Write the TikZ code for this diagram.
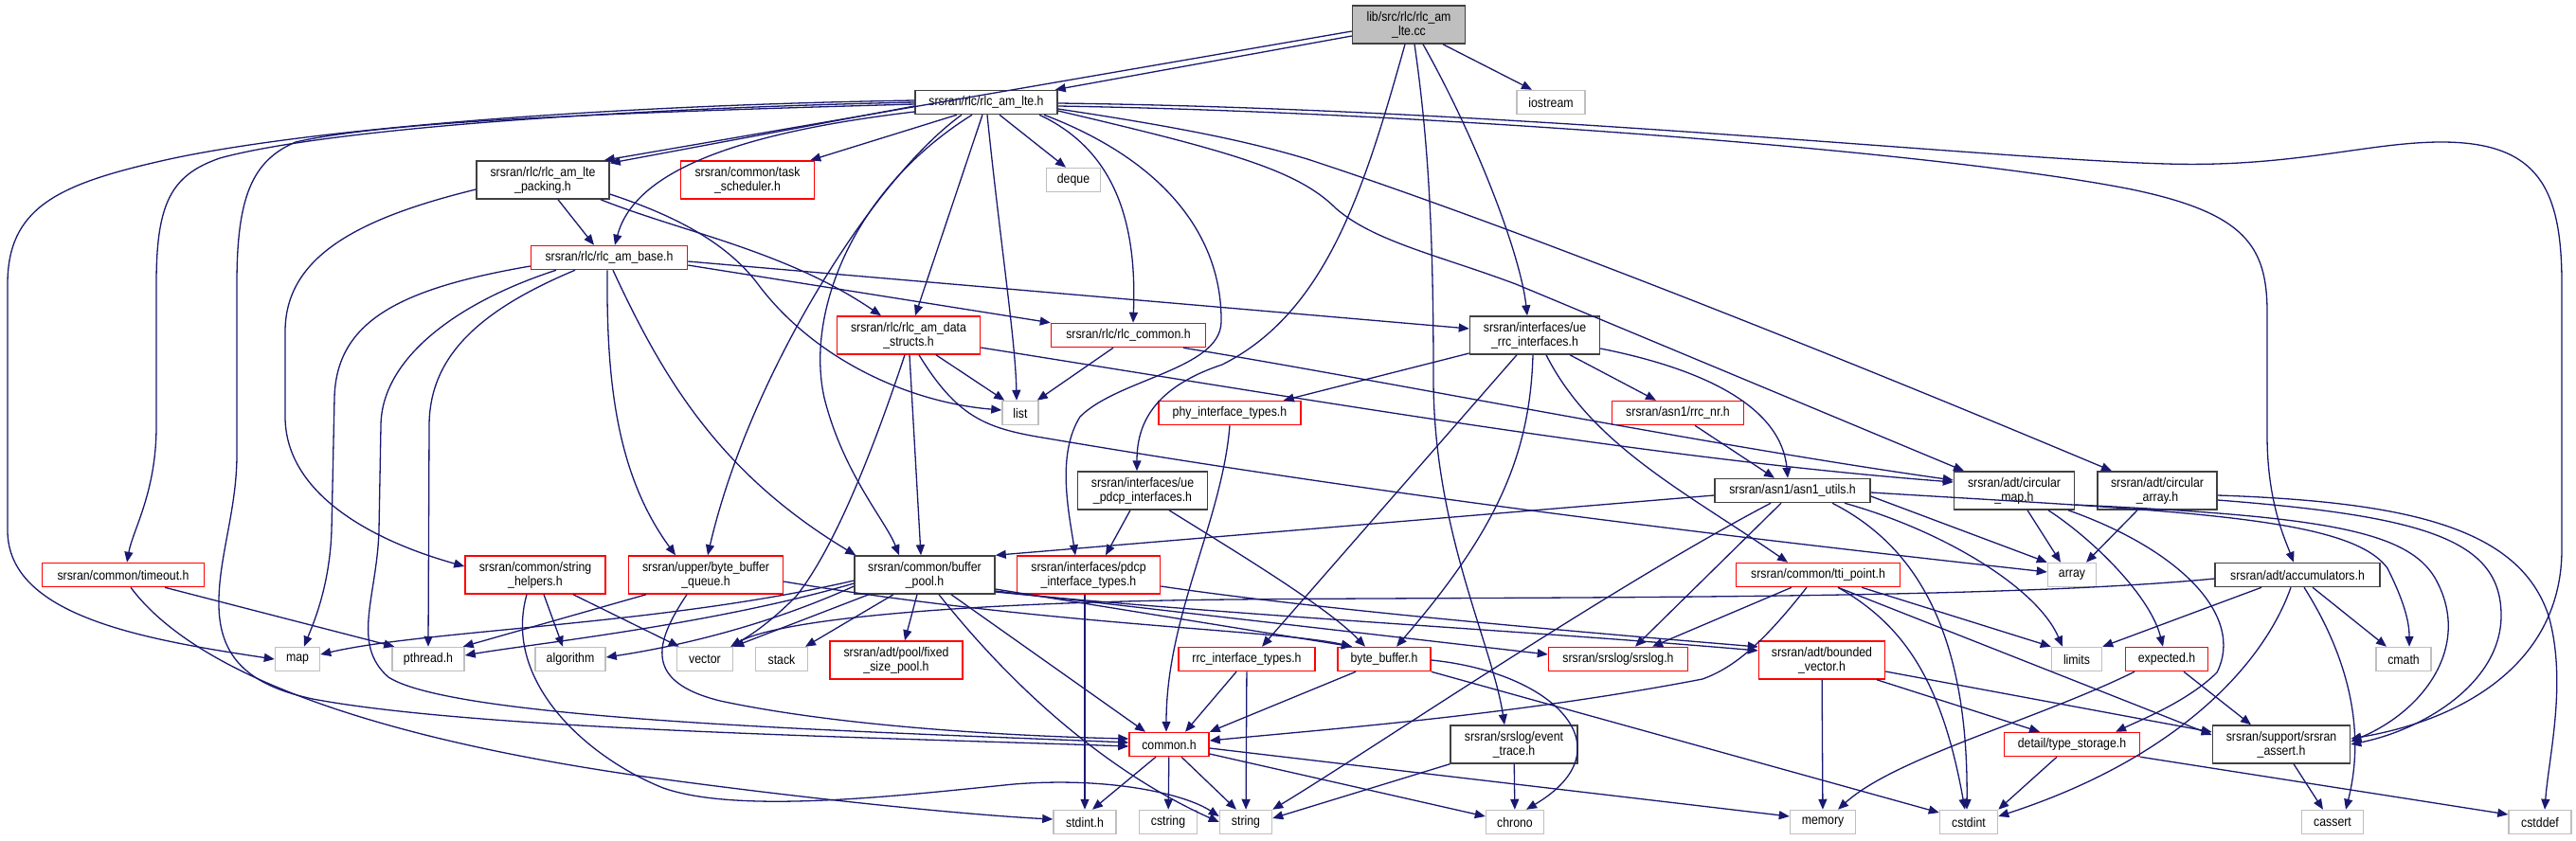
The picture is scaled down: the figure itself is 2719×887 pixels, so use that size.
\documentclass[tikz,border=0pt]{standalone}
\usepackage{fontspec}
\setmainfont{Liberation Sans}[FakeStretch=0.88]
\usetikzlibrary{arrows.meta}
\definecolor{edgec}{RGB}{25,25,112}
\definecolor{bdark}{RGB}{64,64,64}
\definecolor{bgray}{RGB}{191,191,191}
\definecolor{bred}{RGB}{255,0,0}
\definecolor{cfill}{RGB}{191,191,191}
\begin{document}
\begin{tikzpicture}[x=1pt,y=-1pt,
  nbase/.style={draw, line width=1.5pt, inner sep=0pt, align=center, font=\fontsize{14}{15}\selectfont, fill=white},
  nb/.style={nbase, draw=bdark},
  nr/.style={nbase, draw=bred},
  ng/.style={nbase, draw=bgray},
  wd/.style={minimum width=#1pt},
  h1/.style={minimum height=25pt},
  h2/.style={minimum height=40pt},
  e/.style={draw=edgec, line width=1.3pt, -{Triangle[length=11pt,width=9pt]}}
]
\useasboundingbox[fill=white] (0,0) rectangle (2719,887);
% nodes
\node[nb, fill=cfill, wd=119, h2] (cc) at (1487,26) {lib/src/rlc/rlc\_am\\\_lte.cc};
\node[ng, wd=72, h1] (io) at (1637,108) {iostream};
\node[nb, wd=150, h1] (lte) at (1041,108) {srsran/rlc/rlc\_am\_lte.h};
\node[nb, wd=140, h2] (pack) at (573,190) {srsran/rlc/rlc\_am\_lte\\\_packing.h};
\node[nr, wd=141, h2] (task) at (789,190) {srsran/common/task\\\_scheduler.h};
\node[ng, wd=57, h1] (deque) at (1133,190) {deque};
\node[nr, wd=165, h1] (base) at (643,272) {srsran/rlc/rlc\_am\_base.h};
\node[nr, wd=151, h2] (ds) at (959,354) {srsran/rlc/rlc\_am\_data\\\_structs.h};
\node[nr, wd=163, h1] (rcom) at (1191,354) {srsran/rlc/rlc\_common.h};
\node[ng, wd=38, h1] (list) at (1077,436) {list};
\node[nr, wd=150, h1] (phy) at (1298,436) {phy\_interface\_types.h};
\node[nb, wd=137, h2] (pdcpif) at (1206,518) {srsran/interfaces/ue\\\_pdcp\_interfaces.h};
\node[nb, wd=137, h2] (rrcif) at (1620,354) {srsran/interfaces/ue\\\_rrc\_interfaces.h};
\node[nr, wd=139, h1] (rrcnr) at (1771,436) {srsran/asn1/rrc\_nr.h};
\node[nb, wd=164, h1] (asn1) at (1892,518) {srsran/asn1/asn1\_utils.h};
\node[nb, wd=127, h2] (cmap) at (2126,518) {srsran/adt/circular\\\_map.h};
\node[nb, wd=126, h2] (carr) at (2277,518) {srsran/adt/circular\\\_array.h};
\node[nb, wd=174, h1] (acc) at (2425,607) {srsran/adt/accumulators.h};
\node[ng, wd=51, h1] (array) at (2187,607) {array};
\node[ng, wd=53, h1] (limits) at (2192,696) {limits};
\node[nr, wd=87, h1] (expected) at (2287,696) {expected.h};
\node[ng, wd=58, h1] (cmath) at (2537,696) {cmath};
\node[nr, wd=143, h1] (tstore) at (2187,786) {detail/type\_storage.h};
\node[nb, wd=145, h2] (assert) at (2408,786) {srsran/support/srsran\\\_assert.h};
\node[ng, wd=61, h1] (cstdint) at (2078,868) {cstdint};
\node[ng, wd=65, h1] (cassert) at (2462,868) {cassert};
\node[ng, wd=66, h1] (cstddef) at (2681,868) {cstddef};
\node[nr, wd=173, h1] (tti) at (1919,607) {srsran/common/tti\_point.h};
\node[nr, wd=98, h1] (bb) at (1461,696) {byte\_buffer.h};
\node[nr, wd=147, h1] (srslog) at (1708,696) {srsran/srslog/srslog.h};
\node[nr, wd=133, h2] (bvec) at (1923,697) {srsran/adt/bounded\\\_vector.h};
\node[nb, wd=134, h2] (evt) at (1598,786) {srsran/srslog/event\\\_trace.h};
\node[ng, wd=61, h1] (chrono) at (1599,868) {chrono};
\node[ng, wd=69, h1] (memory) at (1924,868) {memory};
\node[nr, wd=144, h1] (rrct) at (1316,696) {rrc\_interface\_types.h};
\node[nr, wd=84, h1] (common) at (1234,786) {common.h};
\node[ng, wd=66, h1] (stdint) at (1145,868) {stdint.h};
\node[ng, wd=61, h1] (cstring) at (1233,868) {cstring};
\node[ng, wd=55, h1] (string) at (1315,868) {string};
\node[nb, wd=148, h2] (bpool) at (976,607) {srsran/common/buffer\\\_pool.h};
\node[nr, wd=151, h2] (pdcpt) at (1149,607) {srsran/interfaces/pdcp\\\_interface\_types.h};
\node[nr, wd=163, h2] (bbq) at (745,607) {srsran/upper/byte\_buffer\\\_queue.h};
\node[ng, wd=59, h1] (vector) at (744,696) {vector};
\node[ng, wd=55, h1] (stack) at (825,696) {stack};
\node[nr, wd=140, h2] (fsp) at (946,697) {srsran/adt/pool/fixed\\\_size\_pool.h};
\node[nr, wd=171, h1] (timeout) at (130,607) {srsran/common/timeout.h};
\node[nr, wd=148, h2] (strh) at (565,607) {srsran/common/string\\\_helpers.h};
\node[ng, wd=47, h1] (map) at (314,696) {map};
\node[ng, wd=76, h1] (pthread) at (452,696) {pthread.h};
\node[ng, wd=74, h1] (algorithm) at (602,696) {algorithm};

% cc edges
\draw[e] ([yshift=-12pt]cc.west) -- ([xshift=-3pt]lte.north east);
\draw[e] ([yshift=-7pt]cc.west) -- ([xshift=-6pt]pack.north east);
\draw[e] ([xshift=36pt]cc.south) -- ([xshift=-20pt]io.north);
\draw[e] ([xshift=15pt]cc.south) .. controls (1560,150) and (1605,270) .. ([xshift=-8pt]rrcif.north);
\draw[e] ([xshift=6pt]cc.south) .. controls (1508,150) and (1513,250) .. (1513,400) .. controls (1513,560) and (1575,680) .. ([xshift=-10pt]evt.north);
\draw[e] ([xshift=-4pt]cc.south) .. controls (1440,200) and (1400,330) .. (1290,385) .. controls (1215,410) and (1200,450) .. ([xshift=-6pt]pdcpif.north);

% lte edges
\draw[e] ([yshift=-4pt]lte.west) -- ([yshift=-3pt]pack.north east);
\draw[e] ([xshift=-31pt]lte.south) -- ([xshift=-5pt]task.north east);
\draw[e] ([xshift=14pt]lte.south) -- ([xshift=-8pt]deque.north);
\draw[e] ([yshift=-10pt]lte.west) .. controls (780,140) and (670,180) .. ([xshift=6pt]base.north);
\draw[e] ([yshift=2pt]lte.west) .. controls (600,112) and (300,140) .. (170,170) .. controls (60,195) and (8,220) .. (8,300) -- (8,560) .. controls (8,650) and (150,675) .. (map.west);
\draw[e] (lte.west) .. controls (600,116) and (330,140) .. (232,167) .. controls (180,185) and (165,215) .. (165,300) -- (165,450) .. controls (165,520) and (140,560) .. ([xshift=4pt]timeout.north);
\draw[e] ([yshift=-2pt]lte.west) .. controls (600,120) and (400,130) .. (312,150) .. controls (265,170) and (250,210) .. (250,300) -- (250,480) .. controls (250,540) and (230,590) .. (231,640) .. controls (232,700) and (270,725) .. (330,738) .. controls (500,770) and (900,778) .. ([yshift=-2pt]common.west);
\draw[e] ([xshift=-4pt]lte.south) -- ([xshift=7pt]ds.north);
\draw[e] ([xshift=1pt]lte.south) .. controls (1055,250) and (1072,360) .. ([xshift=-4pt]list.north);
\draw[e] ([xshift=56pt]lte.south) .. controls (1180,160) and (1200,240) .. ([xshift=5pt]rcom.north);
\draw[e] ([xshift=-26pt]lte.south) .. controls (920,190) and (790,400) .. ([xshift=2pt]bbq.north);
\draw[e] ([xshift=-15pt]lte.south) .. controls (900,200) and (850,330) .. (870,420) .. controls (890,500) and (935,550) .. ([xshift=-27pt]bpool.north);
\draw[e] ([xshift=61pt]lte.south) .. controls (1230,170) and (1290,250) .. (1289,340) .. controls (1288,390) and (1180,400) .. (1140,440) .. controls (1115,480) and (1128,540) .. ([xshift=-14pt]pdcpt.north);
\draw[e] ([yshift=-9pt]lte.east) .. controls (1300,160) and (1370,180) .. (1410,220) .. controls (1450,255) and (1520,270) .. (1600,300) -- ([xshift=-53pt]cmap.north);
\draw[e] ([yshift=-7pt]lte.east) .. controls (1250,135) and (1320,150) .. (1380,168) .. controls (1600,240) and (1950,380) .. ([xshift=-48pt]carr.north);
\draw[e] ([yshift=-4pt]lte.east) .. controls (1500,118) and (2050,160) .. (2250,200) .. controls (2370,225) and (2393,260) .. (2393,330) -- (2393,460) .. controls (2393,530) and (2412,570) .. ([xshift=-4pt]acc.north);
\draw[e] ([yshift=-1pt]lte.east) .. controls (1600,115) and (2100,168) .. (2287,173) .. controls (2420,177) and (2500,150) .. (2577,150) .. controls (2680,150) and (2704,200) .. (2704,300) -- (2704,580) .. controls (2704,700) and (2600,760) .. ([yshift=6pt]assert.east);

% pack edges
\draw[e] ([xshift=16pt]pack.south) -- ([xshift=-16pt]base.north);
\draw[e] ([yshift=-10pt]pack.west) .. controls (380,230) and (301,270) .. (301,350) -- (301,440) .. controls (301,520) and (390,570) .. ([yshift=9pt]strh.west);
\draw[e] ([xshift=61pt]pack.south) .. controls (720,245) and (830,265) .. ([xshift=-29pt]ds.north);
\draw[e] ([yshift=-15pt]pack.east) .. controls (720,230) and (770,260) .. (800,300) .. controls (860,380) and (960,425) .. ([yshift=3pt]list.west);

% base edges
\draw[e] ([yshift=-8pt]base.east) -- (rcom.north west);
\draw[e] ([yshift=-4pt]base.east) -- ([yshift=7pt]rrcif.west);
\draw[e] ([yshift=-9pt]base.west) .. controls (420,305) and (355,340) .. (353,420) -- (350,560) .. controls (348,620) and (330,660) .. ([xshift=7pt]map.north);
\draw[e] ([xshift=-56pt]base.south) .. controls (480,320) and (402,380) .. (402,450) -- (400,560) .. controls (398,630) and (370,680) .. (410,715) .. controls (480,760) and (900,772) .. ([yshift=2pt]common.west);
\draw[e] ([xshift=-36pt]base.south) .. controls (500,330) and (453,380) .. (453,450) -- (pthread.north);
\draw[e] ([xshift=-2pt]base.south) .. controls (640,400) and (650,500) .. ([xshift=-32pt]bbq.north);
\draw[e] ([xshift=4pt]base.south) .. controls (700,400) and (760,500) .. ([xshift=2pt]bpool.north west);

% ds edges
\draw[e] ([xshift=29pt]ds.south) -- ([xshift=3pt]list.north west);
\draw[e] ([xshift=1pt]ds.south) -- ([xshift=-4pt]bpool.north);
\draw[e] ([xshift=-4pt]ds.south) .. controls (920,480) and (880,580) .. (840,630) .. controls (810,660) and (790,672) .. ([xshift=-3pt]vector.north east);
\draw[e] ([xshift=11pt]ds.south) .. controls (1010,440) and (1040,452) .. (1100,462) .. controls (1500,530) and (1900,575) .. ([yshift=3pt]array.west);
\draw[e] ([yshift=-13pt]ds.east) .. controls (1400,425) and (1750,485) .. ([yshift=9pt]cmap.west);

% rcom edges
\draw[e] ([xshift=-16pt]rcom.south) -- ([xshift=-2pt]list.north east);
\draw[e] ([xshift=58pt]rcom.south) .. controls (1450,400) and (1800,470) .. ([yshift=11pt]cmap.west);

% rrcif edges
\draw[e] ([yshift=-19pt]rrcif.west) -- ([xshift=-19pt]phy.north east);
\draw[e] ([xshift=37pt]rrcif.south) -- ([xshift=-23pt]rrcnr.north);
\draw[e] ([yshift=-14pt]rrcif.east) .. controls (1800,390) and (1880,430) .. ([xshift=-5pt]asn1.north);
\draw[e] ([xshift=-19pt]rrcif.south) -- ([xshift=16pt]rrct.north);
\draw[e] ([xshift=-2pt]rrcif.south) .. controls (1615,480) and (1580,560) .. ([xshift=13pt]bb.north);
\draw[e] ([xshift=12pt]rrcif.south) .. controls (1680,470) and (1780,520) .. ([xshift=-32pt]tti.north);

% phy, rrcnr
\draw[e] (phy.south) .. controls (1290,550) and (1231,650) .. ([xshift=-3pt]common.north);
\draw[e] ([xshift=18pt]rrcnr.south) -- ([xshift=-19pt]asn1.north);

% asn1 edges
\draw[e] ([yshift=-5pt]asn1.west) -- (bpool.north east);
\draw[e] ([xshift=-23pt]asn1.south) .. controls (1700,620) and (1450,790) .. (string.north east);
\draw[e] ([xshift=-12pt]asn1.south) -- ([xshift=18pt]srslog.north);
\draw[e] ([xshift=42pt]asn1.south) .. controls (2010,570) and (2078,650) .. ([xshift=-2pt]cstdint.north);
\draw[e] ([yshift=-6pt]asn1.east) -- (array.north west);
\draw[e] ([xshift=55pt]asn1.south) .. controls (2050,560) and (2150,620) .. ([xshift=-15pt]limits.north);
\draw[e] ([yshift=-2pt]asn1.east) .. controls (2300,540) and (2480,545) .. (2520,600) .. controls (2540,640) and (2543,660) .. ([xshift=6pt]cmath.north);

% cmap edges
\draw[e] ([xshift=14pt]cmap.south) -- ([xshift=-12pt]array.north);
\draw[e] ([xshift=36pt]cmap.south) .. controls (2210,570) and (2270,630) .. ([xshift=-4pt]expected.north);
\draw[e] ([xshift=57pt]cmap.south) .. controls (2300,580) and (2370,650) .. (2340,710) .. controls (2310,740) and (2260,760) .. ([xshift=46pt]tstore.north);
\draw[e] ([yshift=-15pt]cmap.east) .. controls (2450,545) and (2540,560) .. (2570,610) .. controls (2610,680) and (2560,750) .. ([yshift=3pt]assert.east);

% carr edges
\draw[e] ([xshift=-21pt]carr.south) -- ([xshift=15pt]array.north);
\draw[e] ([yshift=-10pt]carr.east) .. controls (2560,545) and (2640,570) .. (2640,650) .. controls (2640,720) and (2560,770) .. (assert.east);
\draw[e] ([yshift=-5pt]carr.east) .. controls (2550,530) and (2660,560) .. (2690,650) .. controls (2710,720) and (2690,800) .. ([xshift=5pt]cstddef.north);

% acc edges
\draw[e] ([yshift=-4pt]acc.west) .. controls (2100,634) and (1600,630) .. (1300,633) .. controls (1000,636) and (820,655) .. ([xshift=-3pt]vector.north east);
\draw[e] ([xshift=-38pt]acc.south) -- (limits.north east);
\draw[e] ([xshift=-7pt]acc.south) .. controls (2390,700) and (2300,800) .. ([yshift=6pt]cstdint.east);
\draw[e] ([xshift=7pt]acc.south) .. controls (2470,680) and (2500,760) .. ([xshift=14pt]cassert.north);
\draw[e] ([xshift=16pt]acc.south) -- ([xshift=-18pt]cmath.north);

% expected, tstore, assert
\draw[e] ([xshift=18pt]expected.south) -- ([xshift=-32pt]assert.north);
\draw[e] ([xshift=-34pt]expected.south) .. controls (2150,760) and (2000,800) .. ([xshift=16pt]memory.north);
\draw[e] ([xshift=-16pt]tstore.south) -- (cstdint.north east);
\draw[e] (tstore.south east) -- ([yshift=8pt]cstddef.west);
\draw[e] ([xshift=13pt]assert.south) -- ([xshift=-10pt]cassert.north);

% tti edges
\draw[e] ([xshift=-28pt]tti.south) -- ([xshift=36pt]srslog.north);
\draw[e] ([xshift=-12pt]tti.south) .. controls (1860,680) and (1830,705) .. (1797,717) .. controls (1600,755) and (1400,770) .. ([yshift=4pt]common.east);
\draw[e] ([xshift=46pt]tti.south) -- (limits.north west);
\draw[e] ([xshift=21pt]tti.south) -- ([yshift=10pt]assert.west);
\draw[e] ([xshift=21pt]tti.south) .. controls (2010,660) and (2050,720) .. ([xshift=-4pt]cstdint.north);

% bb edges
\draw[e] ([xshift=-30pt]bb.south) -- (common.north east);
\draw[e] ([yshift=-1pt]bb.east) .. controls (1640,710) and (1720,790) .. ([xshift=12pt]chrono.north);
\draw[e] (bb.south east) -- ([yshift=10pt]cstdint.west);

% bvec edges
\draw[e] (bvec) -- (memory);
\draw[e] ([yshift=-12pt]bvec.east) -- ([yshift=13pt]assert.west);
\draw[e] ([xshift=58pt]bvec.south) -- ([xshift=-34pt]tstore.north);

% evt edges
\draw[e] (evt) -- (chrono);
\draw[e] (evt.south west) -- ([yshift=4pt]string.east);

% pdcpif edges
\draw[e] ([xshift=-13pt]pdcpif.south) -- ([xshift=18pt]pdcpt.north);
\draw[e] ([xshift=28pt]pdcpif.south) .. controls (1300,580) and (1400,640) .. ([xshift=-20pt]bb.north);

% rrct edges
\draw[e] ([xshift=-11pt]rrct.south) -- ([xshift=17pt]common.north);
\draw[e] (rrct) -- (string);

% common edges
\draw[e] ([xshift=-14pt]common.south) -- ([xshift=8pt]stdint.north);
\draw[e] (common) -- (cstring);
\draw[e] ([xshift=13pt]common.south) -- ([xshift=-10pt]string.north);
\draw[e] ([yshift=-10pt]common.east) -- ([yshift=6pt]chrono.west);
\draw[e] ([yshift=-4pt]common.east) -- ([yshift=6pt]memory.west);

% timeout edges
\draw[e] ([xshift=8pt]timeout.south) .. controls (190,690) and (330,770) .. (680,820) .. controls (900,850) and (1050,862) .. ([yshift=3pt]stdint.west);
\draw[e] ([xshift=44pt]timeout.south) -- ([xshift=3pt]pthread.north west);

% pdcpt edges
\draw[e] ([xshift=-4pt]pdcpt.south) -- (stdint.north);
\draw[e] ([yshift=-12pt]pdcpt.east) .. controls (1400,645) and (1700,670) .. ([yshift=14pt]bvec.west);

% strh edges
\draw[e] ([xshift=9pt]strh.south) -- ([xshift=-8pt]algorithm.north);
\draw[e] ([xshift=40pt]strh.south) -- ([xshift=3pt]vector.north west);
\draw[e] ([xshift=-9pt]strh.south) .. controls (530,720) and (620,800) .. (700,832) .. controls (780,860) and (950,840) .. (1070,828) .. controls (1170,820) and (1250,838) .. ([yshift=6pt]string.west);

% bbq edges
\draw[e] ([xshift=-63pt]bbq.south) -- ([xshift=-2pt]pthread.north east);
\draw[e] ([xshift=-20pt]bbq.south) .. controls (690,680) and (680,720) .. (760,740) .. controls (900,770) and (1100,778) .. ([yshift=6pt]common.west);
\draw[e] ([yshift=-7pt]bbq.east) .. controls (1100,660) and (1350,665) .. ([xshift=-34pt]bb.north);

% bpool edges
\draw[e] ([yshift=-6pt]bpool.west) .. controls (700,660) and (450,665) .. ([yshift=5pt]map.east);
\draw[e] ([yshift=-9pt]bpool.west) .. controls (750,660) and (560,680) .. ([yshift=4pt]pthread.east);
\draw[e] ([yshift=-12pt]bpool.west) .. controls (800,665) and (700,685) .. ([yshift=2pt]algorithm.east);
\draw[e] ([xshift=-59pt]bpool.south) -- (vector.north east);
\draw[e] ([xshift=-33pt]bpool.south) -- ([xshift=25pt]stack.north);
\draw[e] ([xshift=-8pt]bpool.south) -- ([xshift=9pt]fsp.north);
\draw[e] ([xshift=15pt]bpool.south) .. controls (1080,740) and (1180,820) .. (string.west);
\draw[e] ([xshift=28pt]bpool.south) -- ([xshift=-25pt]common.north);
\draw[e] ([yshift=-15pt]bpool.east) -- ([xshift=-34pt]bb.north);
\draw[e] ([yshift=-17pt]bpool.east) -- ([yshift=5pt]srslog.west);
\draw[e] ([yshift=-18pt]bpool.east) .. controls (1300,650) and (1600,665) .. ([yshift=10pt]bvec.west);
\end{tikzpicture}
\end{document}
